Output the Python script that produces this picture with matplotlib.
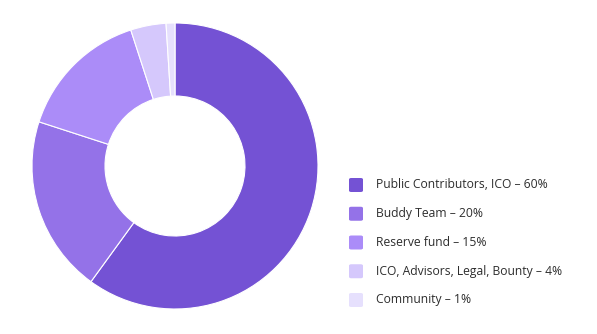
import matplotlib.pyplot as plt
from matplotlib.patches import FancyBboxPatch

labels = ['Public Contributors, ICO', 'Buddy Team', 'Reserve fund',
          'ICO, Advisors, Legal, Bounty', 'Community']
shares = [60, 20, 15, 4, 1]
colors = ['#7452d4', '#9472e8', '#ab8cf8', '#d5c8fc', '#e6e0fd']

W, H = 597, 334
fig = plt.figure(figsize=(W / 100, H / 100), dpi=100)

# donut
cx, cy, R = 175, 166, 143
ax = fig.add_axes([(cx - R) / W, (H - cy - R) / H, 2 * R / W, 2 * R / H])
ax.pie(shares, colors=colors, startangle=90, counterclock=False,
       wedgeprops=dict(width=73 / R, edgecolor='white', linewidth=0.8))
ax.set_xlim(-1, 1)
ax.set_ylim(-1, 1)
ax.set_aspect('equal')
ax.axis('off')

# legend drawn by hand
y0, dy = 185, 28.75
for i, (lab, val, col) in enumerate(zip(labels, shares, colors)):
    yy = y0 + i * dy
    sq = FancyBboxPatch(((349) / W, (H - yy - 7) / H), 14 / W, 14 / H,
                        boxstyle='round,pad=0,rounding_size=0.004',
                        transform=fig.transFigure, facecolor=col,
                        edgecolor='none')
    fig.patches.append(sq)
    fig.text(376 / W, (H - yy) / H, f'{lab} \u2013 {val}%', va='center',
             ha='left', fontsize=8.7, color='#2d2d2d', family='Open Sans')

fig.savefig('out.png', dpi=100)
